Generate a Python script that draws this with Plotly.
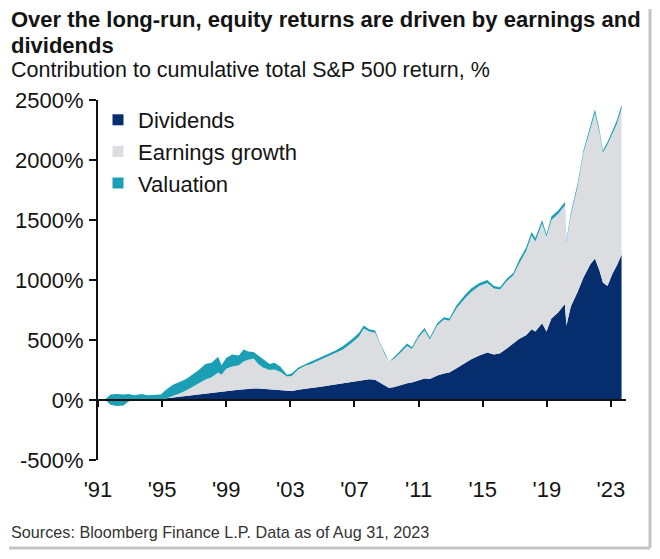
import plotly.graph_objects as go

# ---- data ----
dates = ["1991-01-01","1991-07-01","1991-10-15","1992-03-01","1992-08-01","1992-12-01",
         "1993-04-15","1993-09-15","1994-02-01","1994-07-01","1994-12-01","1995-04-15",
         "1995-09-15","1996-02-01","1996-07-01","1996-12-01","1997-04-15","1997-09-15",
         "1998-02-01","1998-07-01","1998-09-15","1999-01-01","1999-05-15","1999-10-15",
         "2000-02-01","2000-05-15","2000-09-15","2001-01-01","2001-04-15","2001-09-15",
         "2002-01-01","2002-05-15","2002-10-15","2003-02-01","2003-07-01","2003-12-01",
         "2004-04-15","2004-10-15","2005-04-15","2005-10-15","2006-04-15","2006-10-15",
         "2007-04-15","2007-08-01","2007-12-01","2008-04-15","2008-08-01","2008-12-01",
         "2009-03-01","2009-07-01","2009-12-01","2010-04-15","2010-08-01","2011-01-01",
         "2011-05-15","2011-09-15","2012-03-01","2012-08-01","2012-12-01","2013-05-15",
         "2013-12-01","2014-04-15","2014-10-15","2015-04-15","2015-09-15","2016-02-01",
         "2016-07-01","2016-12-01","2017-04-15","2017-09-15","2018-01-20","2018-04-15",
         "2018-09-15","2018-12-24","2019-04-15","2019-09-15","2020-02-15","2020-03-23",
         "2020-07-01","2020-12-01","2021-04-15","2021-09-15","2022-01-01","2022-04-15",
         "2022-07-01","2022-10-15","2023-02-01","2023-05-15","2023-08-31"]

dividends = [0, 1, 2, 3, 4, 5, 6, 7, 8, 9, 10, 15,
             22, 28, 34, 40, 48, 55, 62, 70, 68, 75, 80, 85,
             90, 92, 95, 95, 92, 88, 85, 80, 72, 75, 85, 95,
             100, 108, 118, 128, 138, 150, 160, 170, 172, 168, 145, 115,
             100, 108, 125, 140, 145, 165, 180, 175, 205, 220, 230, 265,
             310, 340, 370, 395, 380, 390, 430, 470, 510, 540, 590, 570,
             640, 570, 680, 730, 800, 620, 780, 900, 1020, 1130, 1180, 1080,
             980, 950, 1050, 1120, 1210]

earnings_growth = [0, -6, -42, -53, -49, -15, -11, -9, -8, -7, -5, 0,
                   13, 27, 46, 70, 87, 115, 128, 160, 142, 185, 200, 205,
                   230, 243, 250, 205, 178, 162, 170, 155, 123, 125, 170, 190,
                   200, 222, 237, 257, 282, 320, 370, 425, 398, 392, 325, 260,
                   220, 237, 275, 310, 280, 355, 400, 330, 415, 450, 430, 500,
                   540, 560, 580, 580, 550, 530, 560, 570, 630, 700, 780, 750,
                   830, 790, 820, 820, 820, 690, 760, 875, 1040, 1125, 1210, 1150,
                   1080, 1180, 1175, 1180, 1220]

valuation = [0, 15, 85, 100, 90, 60, 45, 52, 40, 43, 40, 75,
             95, 95, 95, 105, 115, 130, 120, 130, 80, 90, 100, 80,
             100, 70, 55, 70, 70, 50, 55, 45, 15, 20, 15, 15,
             20, 20, 25, 25, 30, 30, 30, 25, 20, 20, 10, 5,
             0, 15, 20, 20, 15, 20, 20, 15, 20, 20, 20, 25,
             30, 30, 25, 25, 20, 20, 20, 20, 30, 30, 30, 30,
             30, 20, 30, 30, 30, 20, 20, 25, 20, 25, 30, 20,
             20, 20, 25, 30, 30]

series_names = ["Dividends", "Earnings growth", "Valuation"]
series_colors = ["#062d6e", "#dcdde0", "#1b9fb4"]
tick_years = ["1991", "1995", "1999", "2003", "2007", "2011", "2015", "2019", "2023"]
tick_labels = ["'91", "'95", "'99", "'03", "'07", "'11", "'15", "'19", "'23"]
y_ticks = [-500, 0, 500, 1000, 1500, 2000, 2500]
y_tick_labels = ["-500%", "0%", "500%", "1000%", "1500%", "2000%", "2500%"]

FONT = "Liberation Sans, Arial, sans-serif"
TXT = "#141414"

# layout geometry (figure pixels; the page adds an 8px body margin)
FW, FH = 652, 551
L, T, W, H = 90, 92, 528, 360
R, B = FW - L - W, FH - T - H


def px(xpage):
    return (xpage - 8 - L) / W


def py(ypage):
    return (T + H - (ypage - 8)) / H


fig = go.Figure()
for name, vals, col in zip(series_names, [dividends, earnings_growth, valuation], series_colors):
    fig.add_trace(go.Scatter(x=dates, y=vals, name=name, stackgroup="one", mode="lines",
                             line=dict(width=0, color=col), fillcolor=col,
                             showlegend=False, hoverinfo="x+y+name"))
# legend entries (square markers)
for name, col in zip(series_names, series_colors):
    fig.add_trace(go.Scatter(x=[None], y=[None], name=name, mode="markers",
                             marker=dict(symbol="square", size=11, color=col)))
# dummy trace so the zero-line axis renders
fig.add_trace(go.Scatter(x=[dates[0]], y=[None], xaxis="x2", showlegend=False,
                         hoverinfo="skip", mode="lines"))

tickvals = [y + "-01-01" for y in tick_years]
xr = ["1991-01-01", "2023-12-10"]

fig.update_layout(
    width=FW, height=FH,
    margin=dict(l=L, r=R, t=T, b=B, autoexpand=False),
    paper_bgcolor="white", plot_bgcolor="white",
    font=dict(family=FONT, color=TXT),
    showlegend=True,
    legend=dict(x=px(98), y=py(99), xanchor="left", yanchor="top", traceorder="normal",
                font=dict(size=22, color=TXT), bgcolor="rgba(0,0,0,0)",
                itemwidth=30),
    xaxis=dict(type="date", range=xr, tickvals=tickvals, ticktext=tick_labels,
               showgrid=False, zeroline=False, showline=False,
               ticks="outside", ticklen=10, tickcolor="rgba(0,0,0,0)",
               tickfont=dict(size=22, color=TXT, family=FONT)),
    xaxis2=dict(type="date", range=xr, overlaying="x", anchor="free", position=1/6,
                tickvals=tickvals, showticklabels=False, showgrid=False, zeroline=False,
                showline=True, linecolor="#111", linewidth=2,
                ticks="outside", ticklen=6, tickwidth=2, tickcolor="#111"),
    yaxis=dict(range=[-500, 2500], tickvals=y_ticks, ticktext=y_tick_labels,
               showgrid=False, zeroline=False, showline=True, linecolor="#111", linewidth=2,
               ticks="outside", ticklen=7, tickwidth=2, tickcolor="#111",
               ticklabelstandoff=1,
               tickfont=dict(size=22, color=TXT, family=FONT)),
)

fig.add_annotation(xref="paper", yref="paper", x=px(9), y=py(20),
                   xanchor="left", yanchor="middle", align="left", showarrow=False,
                   text="<b>Over the long-run, equity returns are driven by earnings and</b>",
                   font=dict(size=22, color=TXT, family=FONT))
fig.add_annotation(xref="paper", yref="paper", x=px(9), y=py(45),
                   xanchor="left", yanchor="middle", align="left", showarrow=False,
                   text="<b>dividends</b>",
                   font=dict(size=22, color=TXT, family=FONT))
fig.add_annotation(xref="paper", yref="paper", x=px(9), y=py(70),
                   xanchor="left", yanchor="middle", align="left", showarrow=False,
                   text="Contribution to cumulative total S&P 500 return, %",
                   font=dict(size=21.5, color=TXT, family=FONT))
fig.add_annotation(xref="paper", yref="paper", x=px(9), y=py(532),
                   xanchor="left", yanchor="middle", align="left", showarrow=False,
                   text="Sources: Bloomberg Finance L.P. Data as of Aug 31, 2023",
                   font=dict(size=16.2, color="#333", family=FONT))
# frame of the original exhibit (right and bottom edges)
fig.add_shape(type="line", xref="paper", yref="paper",
              x0=px(650), x1=px(650), y0=py(548), y1=py(9),
              line=dict(color="#c4c4c4", width=3), layer="above")
fig.add_shape(type="line", xref="paper", yref="paper",
              x0=px(9), x1=px(650), y0=py(548), y1=py(548),
              line=dict(color="#c4c4c4", width=3), layer="above")

fig.write_html("out.html")
